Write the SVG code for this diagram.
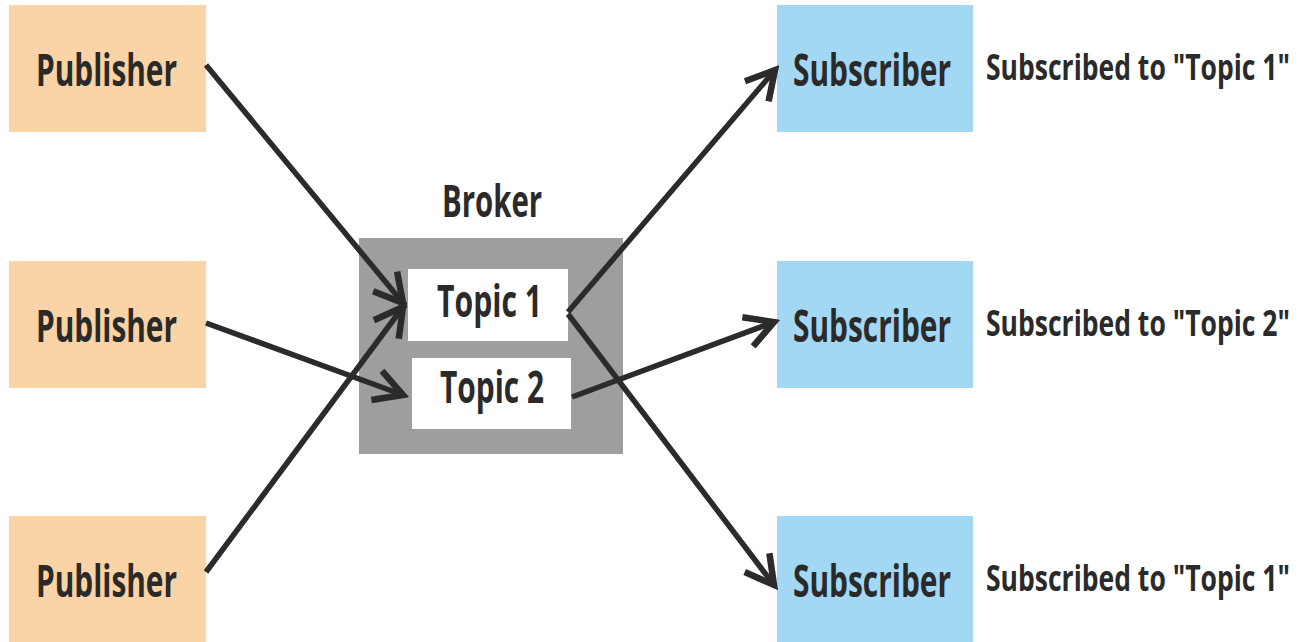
<svg xmlns="http://www.w3.org/2000/svg" width="1298" height="642" viewBox="0 0 1298 642">
<defs>
<style>
.pub{fill:#FAD4A6}
.sub{fill:#A3D8F4}
.t{font-family:"Open Sans","Liberation Sans",sans-serif;font-weight:700;fill:#2a2a2a;text-anchor:middle}
.big{font-size:44px}
.lab{font-size:35px;text-anchor:start}
.c{stroke:#2b2b2b;stroke-width:5.5;fill:none;marker-end:url(#ah)}
</style>
<marker id="ah" markerUnits="userSpaceOnUse" viewBox="-34 -20 40 40" refX="0" refY="0" markerWidth="40" markerHeight="40" orient="auto">
<path d="M -28 -15.5 L 0 0 L -28 15.5" fill="none" stroke="#2b2b2b" stroke-width="6.5" stroke-linejoin="miter"/>
</marker>
</defs>
<rect width="1298" height="642" fill="#ffffff"/>
<g id="pub1"><rect class="pub" x="9" y="5" width="197" height="127"/><text class="t big" transform="translate(106.5,86) scale(0.65,1)" x="0" y="0" textLength="217" lengthAdjust="spacingAndGlyphs">Publisher</text></g>
<g id="pub2"><rect class="pub" x="9" y="261" width="197" height="127"/><text class="t big" transform="translate(106.5,342) scale(0.65,1)" x="0" y="0" textLength="217" lengthAdjust="spacingAndGlyphs">Publisher</text></g>
<g id="pub3"><rect class="pub" x="9" y="516" width="197" height="126"/><text class="t big" transform="translate(106.5,597) scale(0.65,1)" x="0" y="0" textLength="217" lengthAdjust="spacingAndGlyphs">Publisher</text></g>
<g id="broker">
<text class="t big" transform="translate(492,217) scale(0.65,1)" x="0" y="0" textLength="154" lengthAdjust="spacingAndGlyphs">Broker</text>
<rect x="359" y="238" width="264" height="216" fill="#9D9E9D"/>
</g>
<g id="topic1"><rect x="408" y="269" width="160" height="72" fill="#ffffff"/><text class="t big" transform="translate(489.5,317) scale(0.673,1)" x="0" y="0" textLength="156" lengthAdjust="spacingAndGlyphs">Topic 1</text></g>
<g id="topic2"><rect x="412" y="358" width="159" height="71" fill="#ffffff"/><text class="t big" transform="translate(492,403) scale(0.667,1)" x="0" y="0" textLength="156" lengthAdjust="spacingAndGlyphs">Topic 2</text></g>
<g id="sub1"><rect class="sub" x="777" y="5" width="196" height="127"/><text class="t big" transform="translate(872,86) scale(0.656,1)" x="0" y="0" textLength="241" lengthAdjust="spacingAndGlyphs">Subscriber</text></g>
<g id="sub2"><rect class="sub" x="777" y="261" width="196" height="127"/><text class="t big" transform="translate(872,342) scale(0.656,1)" x="0" y="0" textLength="241" lengthAdjust="spacingAndGlyphs">Subscriber</text></g>
<g id="sub3"><rect class="sub" x="777" y="516" width="196" height="126"/><text class="t big" transform="translate(872,597) scale(0.656,1)" x="0" y="0" textLength="241" lengthAdjust="spacingAndGlyphs">Subscriber</text></g>
<g id="label1"><text class="t lab" transform="translate(986,80) scale(0.738,1)" x="0" y="0" textLength="412" lengthAdjust="spacingAndGlyphs">Subscribed to "Topic 1"</text></g>
<g id="label2"><text class="t lab" transform="translate(986,336) scale(0.738,1)" x="0" y="0" textLength="412" lengthAdjust="spacingAndGlyphs">Subscribed to "Topic 2"</text></g>
<g id="label3"><text class="t lab" transform="translate(986,591) scale(0.738,1)" x="0" y="0" textLength="412" lengthAdjust="spacingAndGlyphs">Subscribed to "Topic 1"</text></g>
<g id="connectors">
<line class="c" x1="206" y1="65" x2="403" y2="303"/>
<line class="c" x1="206" y1="323" x2="403" y2="395"/>
<line class="c" x1="206" y1="572" x2="403" y2="307"/>
<line class="c" x1="568" y1="312" x2="775" y2="70"/>
<line class="c" x1="572" y1="397" x2="774" y2="322"/>
<line class="c" x1="568" y1="314" x2="774" y2="585"/>
</g>
</svg>
